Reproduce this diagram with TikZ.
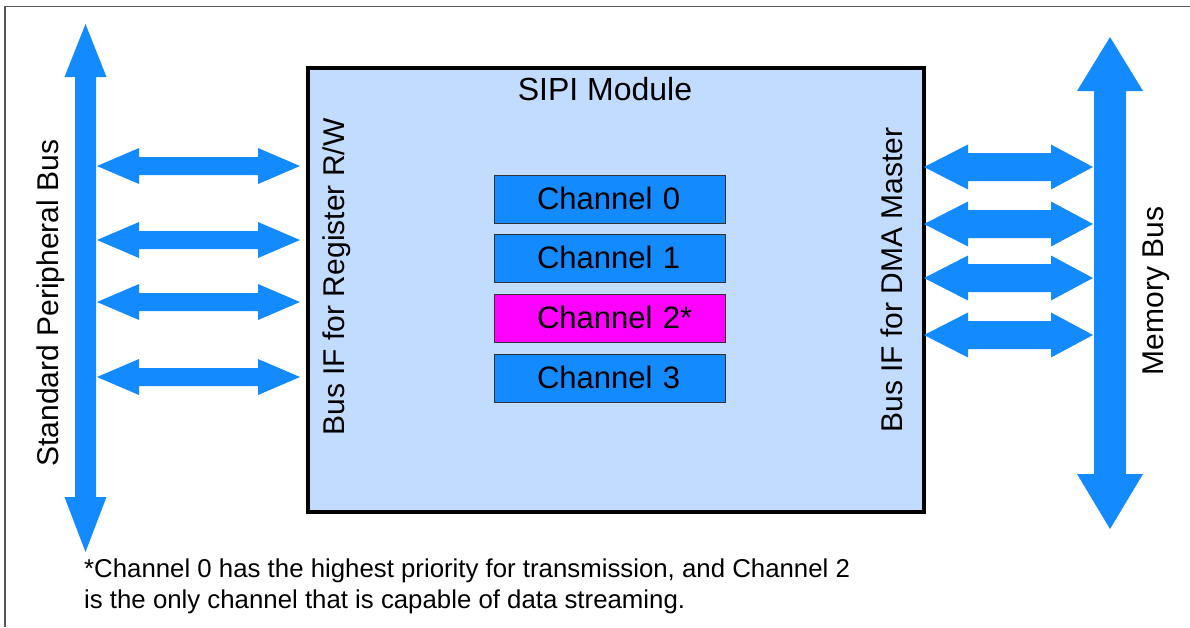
\documentclass[tikz,border=0pt]{standalone}
\usepackage{fontspec}
\setmainfont{Liberation Sans}
\definecolor{busblue}{HTML}{148AFF}
\definecolor{modfill}{HTML}{C2DCFF}
\definecolor{magen}{HTML}{FF00FF}
\definecolor{framegray}{HTML}{555555}
\begin{document}
\begin{tikzpicture}[x=1pt,y=-1pt,
  module/.style={draw=black, line width=4.5pt, fill=modfill, minimum width=616pt, minimum height=444pt, inner sep=0pt},
  chan/.style={draw=black!80, line width=0.8pt, fill=busblue, minimum height=48pt, text width=231pt, align=left, inner xsep=0pt, inner ysep=0pt, text height=24pt, text depth=4pt, font=\fontsize{31}{36}\selectfont, execute at begin node={\hspace*{43pt}}},
  vlabel/.style={rotate=90, anchor=base, inner sep=0pt, font=\fontsize{30}{36}\selectfont},
  bigtext/.style={font=\fontsize{32}{38}\selectfont, inner sep=0pt},
  note/.style={anchor=base west, inner sep=0pt, font=\fontsize{25.8}{31}\selectfont}]
\useasboundingbox (0,0) rectangle (1190,627);
% outer frame (left and top visible)
\draw[framegray, line width=1.5pt] (5,627) -- (5,6.5) -- (1190,6.5);
% module
\node[module, anchor=north west] (mod) at (305.5,65.5) {};
\node[bigtext, anchor=base] (title) at (605,100) {SIPI Module};
% channels
\node[chan] (ch0) at (609.5,199) {Channel 0};
\node[chan] (ch1) at (609.5,258) {Channel 1};
\node[chan, fill=magen] (ch2) at (609.5,318) {Channel 2*};
\node[chan] (ch3) at (609.5,378) {Channel 3};
% side labels
\node[vlabel] (lif) at (344,277) {Bus IF for Register R/W};
\node[vlabel] (rif) at (902,280) {Bus IF for DMA Master};
% left bus
\fill[busblue] (85.5,24) -- (106.5,77) -- (96,77) -- (96,497) -- (106.5,497) -- (85.5,552)
  -- (64.5,497) -- (75,497) -- (75,77) -- (64.5,77) -- cycle;
\node[vlabel] (lbus) at (58,303) {Standard Peripheral Bus};
% right bus
\fill[busblue] (1110,37) -- (1143,91) -- (1126,91) -- (1126,474) -- (1143,474) -- (1110,529)
  -- (1077,474) -- (1094,474) -- (1094,91) -- (1077,91) -- cycle;
\node[vlabel] (rbus) at (1163,291) {Memory Bus};
% left double arrows
\foreach \y in {166,240,302,377}{
  \fill[busblue] (97,\y) -- (139,\y-18) -- (139,\y-9) -- (258,\y-9) -- (258,\y-18) -- (300,\y)
    -- (258,\y+18) -- (258,\y+9) -- (139,\y+9) -- (139,\y+18) -- cycle;
}
% right double arrows
\foreach \y in {167,224,278,335}{
  \fill[busblue] (924,\y) -- (968,\y-22.5) -- (968,\y-14) -- (1051,\y-14) -- (1051,\y-22.5) -- (1093,\y)
    -- (1051,\y+22.5) -- (1051,\y+14) -- (968,\y+14) -- (968,\y+22.5) -- cycle;
}
% footnote
\node[note] (n1) at (84,577) {*Channel 0 has the highest priority for transmission, and Channel 2};
\node[note] (n2) at (84,608) {is the only channel that is capable of data streaming.};
\end{tikzpicture}
\end{document}
